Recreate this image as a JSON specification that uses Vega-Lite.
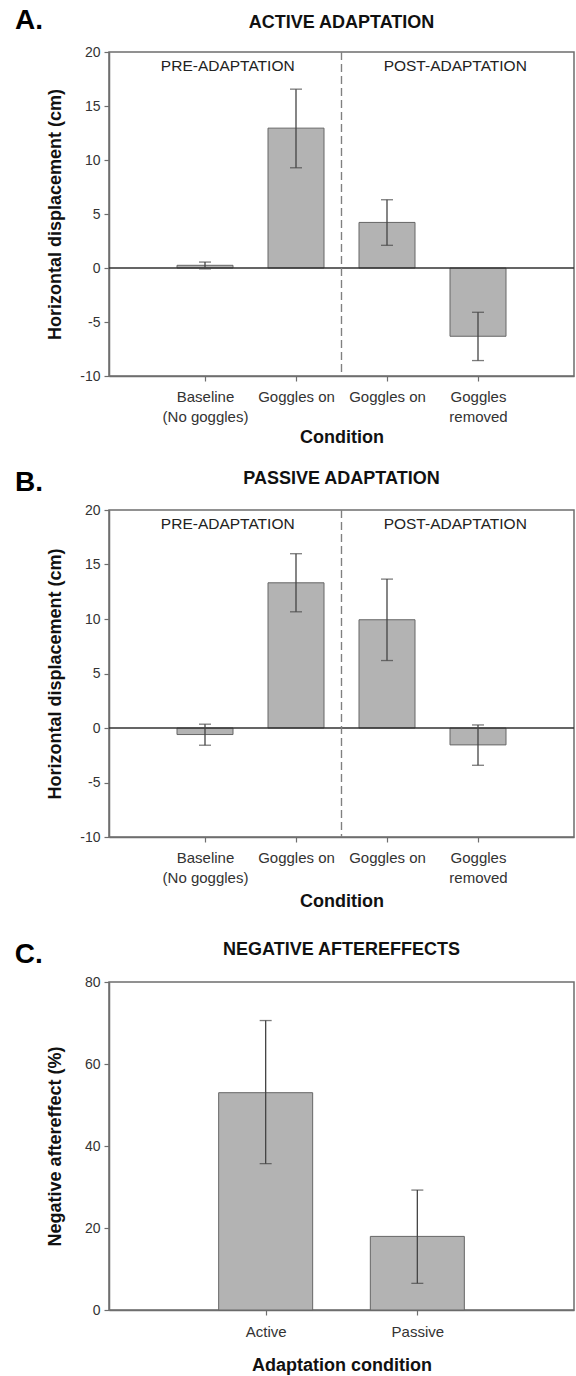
{
  "$schema": "https://vega.github.io/schema/vega-lite/v6.json",
  "padding": {"left": 14, "top": 7, "right": 3, "bottom": 2},
  "spacing": 22,
  "config": {
    "font": "Liberation Sans",
    "view": {"stroke": "#6e6e6e", "strokeWidth": 1.5},
    "axis": {
      "grid": false,
      "domainColor": "#6e6e6e",
      "domainWidth": 1.5,
      "tickColor": "#6e6e6e",
      "tickWidth": 1.2,
      "tickSize": 5,
      "labelColor": "#333333",
      "labelFontSize": 14,
      "labelFont": "Liberation Sans",
      "titleFont": "Liberation Sans",
      "titleFontSize": 18,
      "titleFontWeight": "bold",
      "titleColor": "#111111"
    },
    "title": {"font": "Liberation Sans", "color": "#111111"}
  },
  "datasets": {
    "active": [
      {"pos": 1, "condition": "Baseline (No goggles)", "mean": 0.25, "lo": -0.08, "hi": 0.55},
      {"pos": 2, "condition": "Goggles on (pre)", "mean": 12.95, "lo": 9.28, "hi": 16.56},
      {"pos": 3, "condition": "Goggles on (post)", "mean": 4.22, "lo": 2.10, "hi": 6.32},
      {"pos": 4, "condition": "Goggles removed", "mean": -6.32, "lo": -8.57, "hi": -4.10}
    ],
    "passive": [
      {"pos": 1, "condition": "Baseline (No goggles)", "mean": -0.6, "lo": -1.58, "hi": 0.35},
      {"pos": 2, "condition": "Goggles on (pre)", "mean": 13.32, "lo": 10.66, "hi": 15.99},
      {"pos": 3, "condition": "Goggles on (post)", "mean": 9.93, "lo": 6.19, "hi": 13.66},
      {"pos": 4, "condition": "Goggles removed", "mean": -1.55, "lo": -3.42, "hi": 0.28}
    ],
    "phases": [
      {"phase": "PRE-ADAPTATION", "mid": 1.25, "top": 20, "zero": 0, "boundary": 2.5},
      {"phase": "POST-ADAPTATION", "mid": 3.75, "top": 20, "zero": 0, "boundary": 2.5}
    ],
    "after": [
      {"pos": 1, "condition": "Active", "mean": 53.0, "lo": 35.7, "hi": 70.6},
      {"pos": 2, "condition": "Passive", "mean": 17.95, "lo": 6.5, "hi": 29.25}
    ]
  },
  "vconcat": [
    {
      "title": {"text": "A.", "anchor": "start", "frame": "bounds", "fontSize": 28, "fontWeight": "bold", "color": "#000000", "dx": -31, "dy": 22, "offset": 0},
      "vconcat": [
        {
          "title": {"text": "ACTIVE ADAPTATION", "anchor": "middle", "frame": "group", "fontSize": 18, "fontWeight": "bold", "offset": 13},
          "width": 465,
          "height": 324,
          "layer": [
            {
              "data": {"name": "active"},
              "mark": {"type": "bar", "size": 56, "fill": "#b3b3b3", "stroke": "#666666", "strokeWidth": 1},
              "encoding": {
                "x": {"field": "pos", "type": "quantitative", "title": "Condition",
                  "scale": {"domain": [0, 5], "nice": false, "zero": false},
                  "axis": {"values": [1, 2, 3, 4], "labelFontSize": 15, "labelPadding": 8, "labelLineHeight": 20, "titlePadding": 4,
                    "labelExpr": "datum.value == 1 ? ['Baseline', '(No goggles)'] : datum.value == 4 ? ['Goggles', 'removed'] : 'Goggles on'"}},
                "y": {"field": "mean", "type": "quantitative", "title": "Horizontal displacement (cm)",
                  "scale": {"domain": [-10, 20], "nice": false, "zero": false},
                  "axis": {"values": [-10, -5, 0, 5, 10, 15, 20], "labelPadding": 4, "titlePadding": 15,
                    "labelExpr": "replace(datum.label, '\u2212', '-')"}}
              }
            },
            {
              "data": {"name": "phases"},
              "mark": {"type": "rule", "color": "#333333", "strokeWidth": 1.2},
              "encoding": {"y": {"field": "zero", "type": "quantitative", "title": "Horizontal displacement (cm)"}}
            },
            {
              "data": {"name": "phases"},
              "mark": {"type": "rule", "color": "#808080", "strokeWidth": 1.2, "strokeDash": [8, 4]},
              "encoding": {"x": {"field": "boundary", "type": "quantitative", "title": "Condition"}}
            },
            {
              "data": {"name": "active"},
              "mark": {"type": "errorbar", "ticks": {"size": 12, "thickness": 1.3, "color": "#444444"}, "thickness": 1.3, "color": "#444444"},
              "encoding": {
                "x": {"field": "pos", "type": "quantitative", "title": "Condition"},
                "y": {"field": "lo", "type": "quantitative", "title": "Horizontal displacement (cm)"},
                "y2": {"field": "hi"}
              }
            },
            {
              "data": {"name": "phases"},
              "mark": {"type": "text", "fontSize": 15.5, "color": "#222222", "baseline": "middle", "dy": 14},
              "encoding": {
                "x": {"field": "mid", "type": "quantitative", "title": "Condition"},
                "y": {"field": "top", "type": "quantitative", "title": "Horizontal displacement (cm)"},
                "text": {"field": "phase"}
              }
            }
          ]
        }
      ]
    },
    {
      "title": {"text": "B.", "anchor": "start", "frame": "bounds", "fontSize": 28, "fontWeight": "bold", "color": "#000000", "dx": -31, "dy": 28, "offset": 0},
      "vconcat": [
        {
          "title": {"text": "PASSIVE ADAPTATION", "anchor": "middle", "frame": "group", "fontSize": 18, "fontWeight": "bold", "offset": 15},
          "width": 465,
          "height": 327,
          "layer": [
            {
              "data": {"name": "passive"},
              "mark": {"type": "bar", "size": 56, "fill": "#b3b3b3", "stroke": "#666666", "strokeWidth": 1},
              "encoding": {
                "x": {"field": "pos", "type": "quantitative", "title": "Condition",
                  "scale": {"domain": [0, 5], "nice": false, "zero": false},
                  "axis": {"values": [1, 2, 3, 4], "labelFontSize": 15, "labelPadding": 8, "labelLineHeight": 20, "titlePadding": 7,
                    "labelExpr": "datum.value == 1 ? ['Baseline', '(No goggles)'] : datum.value == 4 ? ['Goggles', 'removed'] : 'Goggles on'"}},
                "y": {"field": "mean", "type": "quantitative", "title": "Horizontal displacement (cm)",
                  "scale": {"domain": [-10, 20], "nice": false, "zero": false},
                  "axis": {"values": [-10, -5, 0, 5, 10, 15, 20], "labelPadding": 4, "titlePadding": 15,
                    "labelExpr": "replace(datum.label, '\u2212', '-')"}}
              }
            },
            {
              "data": {"name": "phases"},
              "mark": {"type": "rule", "color": "#333333", "strokeWidth": 1.2},
              "encoding": {"y": {"field": "zero", "type": "quantitative", "title": "Horizontal displacement (cm)"}}
            },
            {
              "data": {"name": "phases"},
              "mark": {"type": "rule", "color": "#808080", "strokeWidth": 1.2, "strokeDash": [8, 4]},
              "encoding": {"x": {"field": "boundary", "type": "quantitative", "title": "Condition"}}
            },
            {
              "data": {"name": "passive"},
              "mark": {"type": "errorbar", "ticks": {"size": 12, "thickness": 1.3, "color": "#444444"}, "thickness": 1.3, "color": "#444444"},
              "encoding": {
                "x": {"field": "pos", "type": "quantitative", "title": "Condition"},
                "y": {"field": "lo", "type": "quantitative", "title": "Horizontal displacement (cm)"},
                "y2": {"field": "hi"}
              }
            },
            {
              "data": {"name": "phases"},
              "mark": {"type": "text", "fontSize": 15.5, "color": "#222222", "baseline": "middle", "dy": 14},
              "encoding": {
                "x": {"field": "mid", "type": "quantitative", "title": "Condition"},
                "y": {"field": "top", "type": "quantitative", "title": "Horizontal displacement (cm)"},
                "text": {"field": "phase"}
              }
            }
          ]
        }
      ]
    },
    {
      "title": {"text": ["", "C."], "anchor": "start", "frame": "bounds", "fontSize": 28, "fontWeight": "bold", "color": "#000000", "dx": -31, "dy": 57, "offset": 0, "baseline": "bottom", "lineHeight": 8},
      "vconcat": [
        {
          "title": {"text": "NEGATIVE AFTEREFFECTS", "anchor": "middle", "frame": "group", "fontSize": 18, "fontWeight": "bold", "offset": 16},
          "width": 465,
          "height": 328,
          "layer": [
            {
              "data": {"name": "after"},
              "mark": {"type": "bar", "size": 94, "fill": "#b3b3b3", "stroke": "#666666", "strokeWidth": 1},
              "encoding": {
                "x": {"field": "pos", "type": "quantitative", "title": "Adaptation condition",
                  "scale": {"domain": [0, 3], "nice": false, "zero": false},
                  "axis": {"values": [1, 2], "labelFontSize": 15, "labelPadding": 9, "titlePadding": 17,
                    "labelExpr": "datum.value == 1 ? 'Active' : 'Passive'"}},
                "y": {"field": "mean", "type": "quantitative", "title": "Negative aftereffect (%)",
                  "scale": {"domain": [0, 80], "nice": false},
                  "axis": {"values": [0, 20, 40, 60, 80], "labelPadding": 4, "titlePadding": 20}}
              }
            },
            {
              "data": {"name": "after"},
              "mark": {"type": "errorbar", "ticks": {"size": 12, "thickness": 1.3, "color": "#444444"}, "thickness": 1.3, "color": "#444444"},
              "encoding": {
                "x": {"field": "pos", "type": "quantitative", "title": "Adaptation condition"},
                "y": {"field": "lo", "type": "quantitative", "title": "Negative aftereffect (%)"},
                "y2": {"field": "hi"}
              }
            }
          ]
        }
      ]
    }
  ]
}
